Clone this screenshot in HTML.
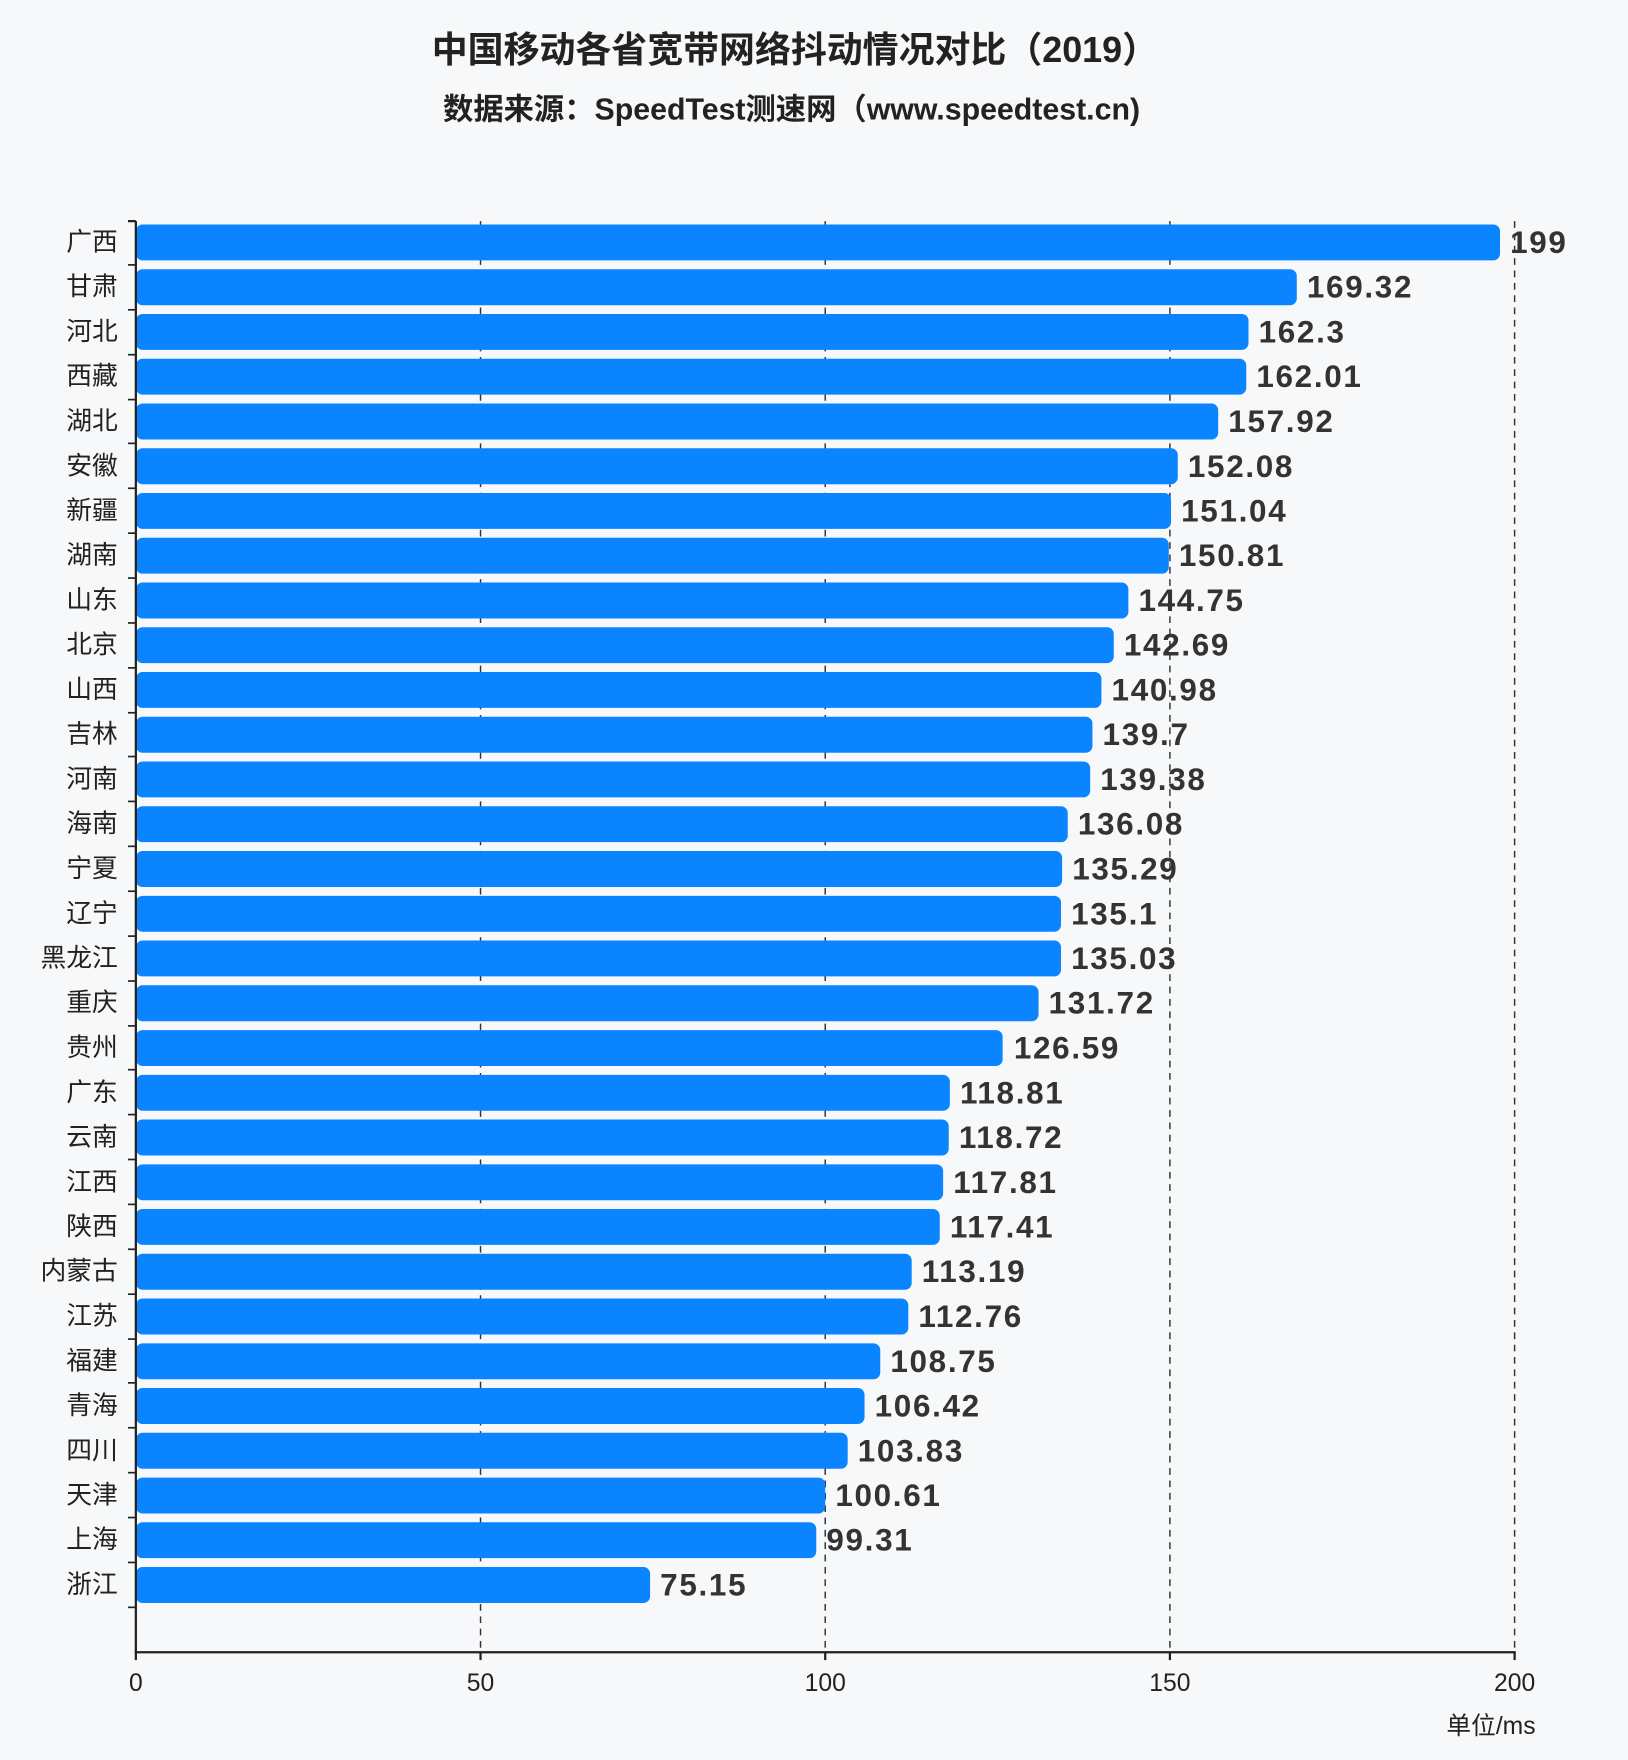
<!DOCTYPE html>
<html><head><meta charset="utf-8"><style>
html,body{margin:0;padding:0;background:#f7f8f9;}
svg{display:block;}
text{font-family:"Liberation Sans","Noto Sans CJK SC",sans-serif;}
</style></head><body>
<svg width="1628" height="1760" viewBox="0 0 1450 1568" preserveAspectRatio="none" xmlns="http://www.w3.org/2000/svg">
<rect width="1450" height="1568" fill="#f7f8f9"/>
<text x="708" y="44" text-anchor="middle" dominant-baseline="central" font-size="32" font-weight="bold" fill="#222">中国移动各省宽带网络抖动情况对比（2019）</text>
<text x="705" y="98" text-anchor="middle" dominant-baseline="central" font-size="27" font-weight="bold" fill="#222">数据来源：SpeedTest测速网（www.speedtest.cn)</text>
<g stroke="#333" stroke-width="1.3" stroke-dasharray="6,5">
<line x1="428" y1="197" x2="428" y2="1472"/>
<line x1="735" y1="197" x2="735" y2="1472"/>
<line x1="1042" y1="197" x2="1042" y2="1472"/>
<line x1="1349" y1="197" x2="1349" y2="1472"/>
</g>
<g fill="#0a84ff">
<rect x="121" y="200" width="1215" height="32" rx="6"/>
<rect x="121" y="239.9" width="1034" height="32" rx="6"/>
<rect x="121" y="279.7" width="991" height="32" rx="6"/>
<rect x="121" y="319.6" width="989" height="32" rx="6"/>
<rect x="121" y="359.5" width="964" height="32" rx="6"/>
<rect x="121" y="399.4" width="928" height="32" rx="6"/>
<rect x="121" y="439.2" width="922" height="32" rx="6"/>
<rect x="121" y="479.1" width="920" height="32" rx="6"/>
<rect x="121" y="519" width="884" height="32" rx="6"/>
<rect x="121" y="558.8" width="871" height="32" rx="6"/>
<rect x="121" y="598.7" width="860" height="32" rx="6"/>
<rect x="121" y="638.6" width="852" height="32" rx="6"/>
<rect x="121" y="678.4" width="850" height="32" rx="6"/>
<rect x="121" y="718.3" width="830" height="32" rx="6"/>
<rect x="121" y="758.2" width="825" height="32" rx="6"/>
<rect x="121" y="798.1" width="824" height="32" rx="6"/>
<rect x="121" y="837.9" width="824" height="32" rx="6"/>
<rect x="121" y="877.8" width="804" height="32" rx="6"/>
<rect x="121" y="917.7" width="772" height="32" rx="6"/>
<rect x="121" y="957.6" width="725" height="32" rx="6"/>
<rect x="121" y="997.4" width="724" height="32" rx="6"/>
<rect x="121" y="1037.3" width="719" height="32" rx="6"/>
<rect x="121" y="1077.1" width="716" height="32" rx="6"/>
<rect x="121" y="1117" width="691" height="32" rx="6"/>
<rect x="121" y="1156.9" width="688" height="32" rx="6"/>
<rect x="121" y="1196.8" width="663" height="32" rx="6"/>
<rect x="121" y="1236.6" width="649" height="32" rx="6"/>
<rect x="121" y="1276.5" width="634" height="32" rx="6"/>
<rect x="121" y="1316.4" width="614" height="32" rx="6"/>
<rect x="121" y="1356.2" width="606" height="32" rx="6"/>
<rect x="121" y="1396.1" width="458" height="32" rx="6"/>
</g>
<g font-size="28" font-weight="bold" fill="#333" dominant-baseline="central" letter-spacing="1.5">
<text x="1345" y="216">199</text>
<text x="1164" y="255.9">169.32</text>
<text x="1121" y="295.7">162.3</text>
<text x="1119" y="335.6">162.01</text>
<text x="1094" y="375.5">157.92</text>
<text x="1058" y="415.4">152.08</text>
<text x="1052" y="455.2">151.04</text>
<text x="1050" y="495.1">150.81</text>
<text x="1014" y="535">144.75</text>
<text x="1001" y="574.8">142.69</text>
<text x="990" y="614.7">140.98</text>
<text x="982" y="654.6">139.7</text>
<text x="980" y="694.4">139.38</text>
<text x="960" y="734.3">136.08</text>
<text x="955" y="774.2">135.29</text>
<text x="954" y="814.1">135.1</text>
<text x="954" y="853.9">135.03</text>
<text x="934" y="893.8">131.72</text>
<text x="903" y="933.7">126.59</text>
<text x="855" y="973.6">118.81</text>
<text x="854" y="1013.4">118.72</text>
<text x="849" y="1053.3">117.81</text>
<text x="846" y="1093.1">117.41</text>
<text x="821" y="1133">113.19</text>
<text x="818" y="1172.9">112.76</text>
<text x="793" y="1212.8">108.75</text>
<text x="779" y="1252.6">106.42</text>
<text x="764" y="1292.5">103.83</text>
<text x="744" y="1332.4">100.61</text>
<text x="736" y="1372.2">99.31</text>
<text x="588" y="1412.1">75.15</text>
</g>
<g font-size="23" fill="#222" text-anchor="end" dominant-baseline="central">
<text x="105" y="216">广西</text><text x="105" y="255.9">甘肃</text><text x="105" y="295.7">河北</text>
<text x="105" y="335.6">西藏</text><text x="105" y="375.5">湖北</text><text x="105" y="415.4">安徽</text>
<text x="105" y="455.2">新疆</text><text x="105" y="495.1">湖南</text><text x="105" y="535">山东</text>
<text x="105" y="574.8">北京</text><text x="105" y="614.7">山西</text><text x="105" y="654.6">吉林</text>
<text x="105" y="694.4">河南</text><text x="105" y="734.3">海南</text><text x="105" y="774.2">宁夏</text>
<text x="105" y="814.1">辽宁</text><text x="105" y="853.9">黑龙江</text><text x="105" y="893.8">重庆</text>
<text x="105" y="933.7">贵州</text><text x="105" y="973.6">广东</text><text x="105" y="1013.4">云南</text>
<text x="105" y="1053.3">江西</text><text x="105" y="1093.1">陕西</text><text x="105" y="1133">内蒙古</text>
<text x="105" y="1172.9">江苏</text><text x="105" y="1212.8">福建</text><text x="105" y="1252.6">青海</text>
<text x="105" y="1292.5">四川</text><text x="105" y="1332.4">天津</text><text x="105" y="1372.2">上海</text>
<text x="105" y="1412.1">浙江</text>
</g>
<g stroke="#222" stroke-width="2">
<line x1="121" y1="197" x2="121" y2="1473"/>
<line x1="120" y1="1472" x2="1350" y2="1472"/>
<line x1="114" y1="197" x2="121" y2="197"/>
<line x1="121" y1="1472" x2="121" y2="1479"/>
<line x1="428" y1="1472" x2="428" y2="1479"/>
<line x1="735" y1="1472" x2="735" y2="1479"/>
<line x1="1042" y1="1472" x2="1042" y2="1479"/>
<line x1="1349" y1="1472" x2="1349" y2="1479"/>
</g>
<g stroke="#222" stroke-width="1.5">
<line x1="114" y1="236" x2="121" y2="236"/><line x1="114" y1="276" x2="121" y2="276"/><line x1="114" y1="316" x2="121" y2="316"/>
<line x1="114" y1="356" x2="121" y2="356"/><line x1="114" y1="395" x2="121" y2="395"/><line x1="114" y1="435" x2="121" y2="435"/>
<line x1="114" y1="475" x2="121" y2="475"/><line x1="114" y1="515" x2="121" y2="515"/><line x1="114" y1="555" x2="121" y2="555"/>
<line x1="114" y1="595" x2="121" y2="595"/><line x1="114" y1="635" x2="121" y2="635"/><line x1="114" y1="674" x2="121" y2="674"/>
<line x1="114" y1="714" x2="121" y2="714"/><line x1="114" y1="754" x2="121" y2="754"/><line x1="114" y1="794" x2="121" y2="794"/>
<line x1="114" y1="834" x2="121" y2="834"/><line x1="114" y1="874" x2="121" y2="874"/><line x1="114" y1="914" x2="121" y2="914"/>
<line x1="114" y1="953" x2="121" y2="953"/><line x1="114" y1="993" x2="121" y2="993"/><line x1="114" y1="1033" x2="121" y2="1033"/>
<line x1="114" y1="1073" x2="121" y2="1073"/><line x1="114" y1="1113" x2="121" y2="1113"/><line x1="114" y1="1153" x2="121" y2="1153"/>
<line x1="114" y1="1193" x2="121" y2="1193"/><line x1="114" y1="1232" x2="121" y2="1232"/><line x1="114" y1="1272" x2="121" y2="1272"/>
<line x1="114" y1="1312" x2="121" y2="1312"/><line x1="114" y1="1352" x2="121" y2="1352"/><line x1="114" y1="1392" x2="121" y2="1392"/>
<line x1="114" y1="1432" x2="121" y2="1432"/>
</g>
<g font-size="22" fill="#222" text-anchor="middle" dominant-baseline="central">
<text x="121" y="1500">0</text><text x="428" y="1500">50</text><text x="735" y="1500">100</text>
<text x="1042" y="1500">150</text><text x="1349" y="1500">200</text>
</g>
<text x="1328" y="1538" text-anchor="middle" dominant-baseline="central" font-size="22" fill="#222">单位/ms</text>
</svg>
</body></html>
